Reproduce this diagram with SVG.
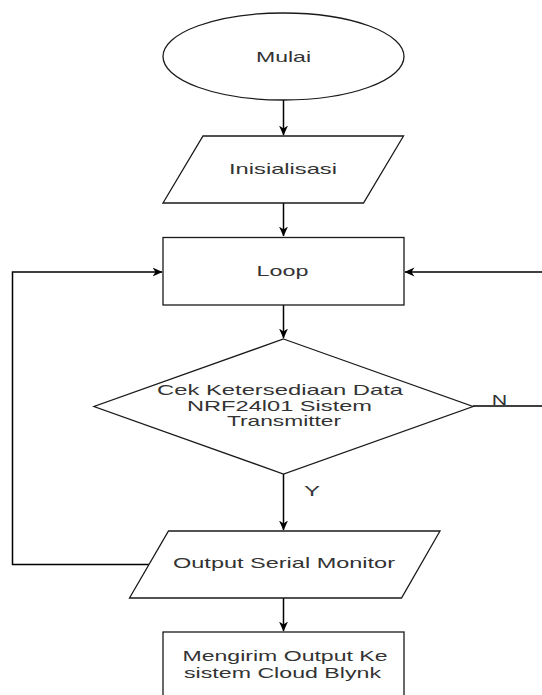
<svg xmlns="http://www.w3.org/2000/svg" width="542" height="695" viewBox="0 0 542 695">
<style>
.shape{fill:#ffffff;stroke:#1a1a1a;stroke-width:1.3}
.lbl{font-family:"Liberation Sans",Arial,sans-serif;font-size:15px;fill:#333333;text-anchor:middle}
.edge{fill:none;stroke:#000000;stroke-width:1.5}
.elbl{font-family:"Liberation Sans",Arial,sans-serif;font-size:14px;fill:#333333;text-anchor:middle}
</style>
<defs>
<marker id="arr" markerUnits="userSpaceOnUse" markerWidth="10" markerHeight="10" refX="9.5" refY="5" orient="auto">
<path d="M0,0.5 L10,5 L0,9.5 L3,5 Z" fill="#000000"/>
</marker>
</defs>
<rect width="542" height="695" fill="#ffffff"/>
<g id="connectors">
<path class="edge" d="M283.5,100 L283.5,135" marker-end="url(#arr)"/>
<path class="edge" d="M283.5,203 L283.5,236" marker-end="url(#arr)"/>
<path class="edge" d="M283.5,305 L283.5,338" marker-end="url(#arr)"/>
<path class="edge" d="M283.5,474 L283.5,530" marker-end="url(#arr)"/>
<path class="edge" d="M283.5,598 L283.5,631" marker-end="url(#arr)"/>
<path class="edge" d="M149,564.5 L12.5,564.5 L12.5,272 L162,272" marker-end="url(#arr)"/>
<path class="edge" d="M473,406 L546,406 L546,272 L405,272" marker-end="url(#arr)"/>
<text class="elbl" transform="matrix(1.56 0 0 1 499.5 0)" x="0" y="405" textLength="9.9" lengthAdjust="spacingAndGlyphs">N</text>
<text class="elbl" transform="matrix(1.56 0 0 1 312 0)" x="0" y="496" textLength="10.3" lengthAdjust="spacingAndGlyphs">Y</text>
</g>
<g id="mulai">
<ellipse class="shape" cx="283.5" cy="56.5" rx="120.5" ry="43.5"/>
<text class="lbl" transform="matrix(1.56 0 0 1 283.5 0)" x="0" y="62" textLength="35.3" lengthAdjust="spacingAndGlyphs">Mulai</text>
</g>
<g id="inisialisasi">
<polygon class="shape" points="203,136 403.5,136 363.5,203 163,203"/>
<text class="lbl" transform="matrix(1.56 0 0 1 283 0)" x="0" y="174.5" textLength="69.2" lengthAdjust="spacingAndGlyphs">Inisialisasi</text>
</g>
<g id="loop">
<rect class="shape" x="163" y="237.5" width="241" height="67.5"/>
<text class="lbl" transform="matrix(1.56 0 0 1 282.5 0)" x="0" y="276" textLength="33.3" lengthAdjust="spacingAndGlyphs">Loop</text>
</g>
<g id="cek">
<polygon class="shape" points="283.5,339 473,406.5 283.5,474 94,406.5"/>
<text class="lbl" transform="matrix(1.56 0 0 1 280 0)" x="0" y="395.5" textLength="157.7" lengthAdjust="spacingAndGlyphs">Cek Ketersediaan Data</text>
<text class="lbl" transform="matrix(1.56 0 0 1 279.5 0)" x="0" y="411" textLength="118.6" lengthAdjust="spacingAndGlyphs">NRF24l01 Sistem</text>
<text class="lbl" transform="matrix(1.56 0 0 1 284 0)" x="0" y="426.5" textLength="73.1" lengthAdjust="spacingAndGlyphs">Transmitter</text>
</g>
<g id="output">
<polygon class="shape" points="168.5,531 440,531 401.5,598 129.5,598"/>
<text class="lbl" transform="matrix(1.56 0 0 1 284 0)" x="0" y="568.5" textLength="142.3" lengthAdjust="spacingAndGlyphs">Output Serial Monitor</text>
</g>
<g id="kirim">
<rect class="shape" x="163" y="632" width="241" height="80"/>
<text class="lbl" transform="matrix(1.56 0 0 1 285 0)" x="0" y="661.5" textLength="131.4" lengthAdjust="spacingAndGlyphs">Mengirim Output Ke</text>
<text class="lbl" transform="matrix(1.56 0 0 1 282.5 0)" x="0" y="678" textLength="126.3" lengthAdjust="spacingAndGlyphs">sistem Cloud Blynk</text>
</g>
</svg>
